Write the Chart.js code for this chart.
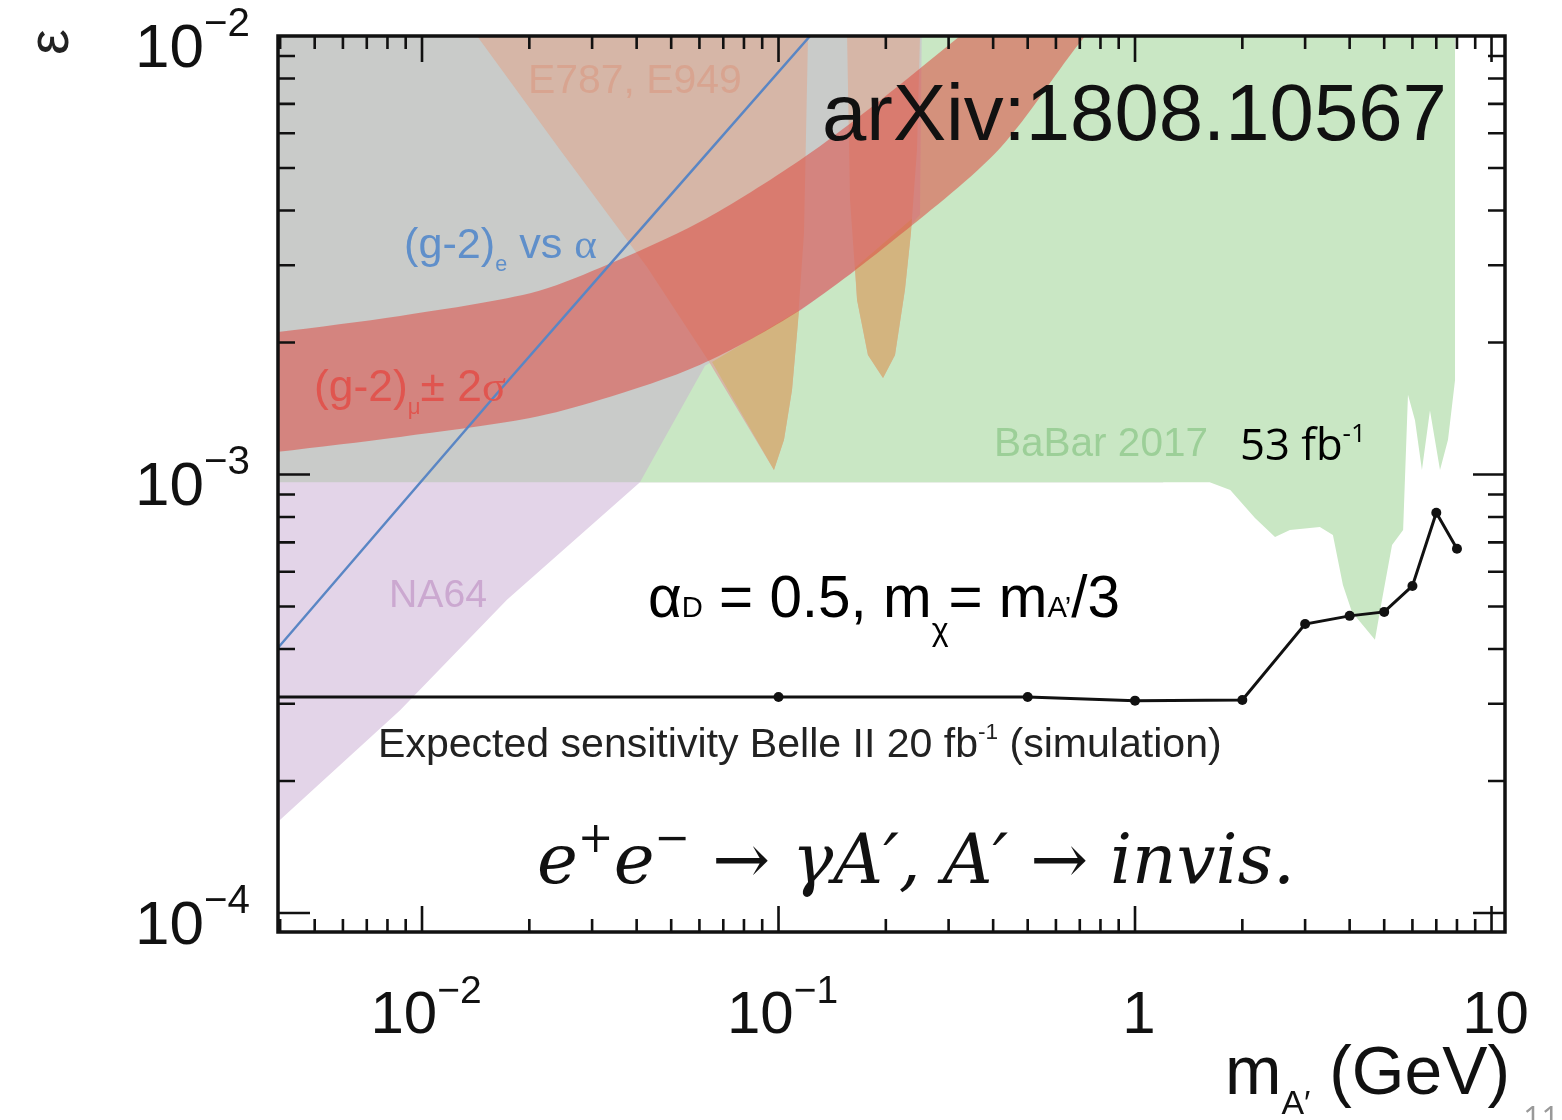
<!DOCTYPE html>
<html>
<head>
<meta charset="utf-8">
<script src="https://cdn.jsdelivr.net/npm/chart.js@4.4.1/dist/chart.umd.min.js"></script>
<style>
  html, body { margin: 0; background: #fff; }
  #wrap { width: 1562px; height: 1120px; }
</style>
</head>
<body>
<div id="wrap"><canvas id="c" width="1562" height="1120"></canvas></div>
<script>
// x = m_A' (GeV), y = epsilon, both log
var xRange = [0.003945, 10.91];
var yRange = [9.05e-5, 1e-2];

var xTickLabels = [[0.01, '10', '\u22122'], [0.1, '10', '\u22121'], [1, '1', ''], [10, '10', '']];
var yTickLabels = [[1e-2, '10', '\u22122'], [1e-3, '10', '\u22123'], [1e-4, '10', '\u22124']];
var tickDecades = [-4, -3, -2, -1, 0, 1];

// Belle II expected sensitivity, 20 fb^-1
var belleMass = [0.001, 0.1, 0.5, 1, 2, 3, 4, 5, 6, 7, 8];
var belleEps  = [3.11e-4, 3.11e-4, 3.11e-4, 3.05e-4, 3.06e-4, 4.56e-4, 4.76e-4, 4.86e-4, 5.57e-4, 8.18e-4, 6.77e-4];

// (g-2)_e vs alpha
var g2eMass = [0.00394, 0.01655, 0.1226];
var g2eEps  = [4.02e-4, 1.558e-3, 1e-2];

// (g-2)_mu +- 2 sigma band
var g2muUpMass  = [0.0039, 0.00868, 0.0201, 0.0316, 0.0603, 0.1148, 0.193, 0.323, 0.418];
var g2muUpEps   = [2.11e-3, 2.30e-3, 2.59e-3, 2.96e-3, 3.77e-3, 5.21e-3, 7.14e-3, 1e-2, 1.18e-2];
var g2muLowMass = [0.0039, 0.00868, 0.0201, 0.0316, 0.0603, 0.1148, 0.2194, 0.418, 0.725, 0.908];
var g2muLowEps  = [1.125e-3, 1.218e-3, 1.345e-3, 1.48e-3, 1.78e-3, 2.37e-3, 3.52e-3, 5.55e-3, 1e-2, 1.18e-2];

// E787, E949
var e787Mass = [0.01427, 0.02438, 0.04277, 0.0634, 0.0971, 0.1036, 0.1091, 0.1127, 0.1179, 0.1210,
                0.1557, 0.1587, 0.1661, 0.1782, 0.1964, 0.2122, 0.2263, 0.2352, 0.2446, 0.2494];
var e787Eps  = [1e-2, 5.50e-3, 2.974e-3, 1.825e-3, 1.024e-3, 1.20e-3, 1.558e-3, 2.10e-3, 3.555e-3, 1e-2,
                1e-2, 4.23e-3, 2.50e-3, 1.874e-3, 1.66e-3, 1.874e-3, 2.64e-3, 3.555e-3, 5.50e-3, 1e-2];
var dip1Mass = [0.0651, 0.0971, 0.1036, 0.1091, 0.1127, 0.1142];
var dip1Eps  = [1.806e-3, 1.024e-3, 1.20e-3, 1.558e-3, 2.10e-3, 2.37e-3];
var dip2Mass = [0.1639, 0.1661, 0.1782, 0.1964, 0.2122, 0.2263, 0.2352, 0.2367];
var dip2Eps  = [2.96e-3, 2.50e-3, 1.874e-3, 1.66e-3, 1.874e-3, 2.64e-3, 3.555e-3, 3.83e-3];

// BaBar 2017
var babarMass = [0.04087, 0.0622, 0.1148, 0.2194, 0.2494, 0.2527, 7.90, 7.90, 7.55, 7.17, 6.72, 6.38, 6.10, 5.83,
                 5.65, 5.26, 4.93, 4.71, 4.47, 4.06, 3.83, 3.59, 3.30, 2.72, 2.47, 2.17, 1.85, 1.62];
var babarEps  = [9.6e-4, 1.769e-3, 2.36e-3, 3.48e-3, 3.91e-3, 1.2e-2, 1.2e-2, 1.64e-3, 1.20e-3, 1.024e-3, 1.40e-3, 1.024e-3, 1.33e-3, 1.52e-3,
                 7.47e-4, 6.91e-4, 5.18e-4, 4.20e-4, 4.42e-4, 4.86e-4, 5.60e-4, 7.28e-4, 7.59e-4, 7.47e-4, 7.20e-4, 7.96e-4, 9.22e-4, 9.6e-4];

// other earlier limits (grey)
var greyMass = [0.003, 1.2, 1.2, 0.003];
var greyEps  = [9.6e-4, 9.6e-4, 1.2e-2, 1.2e-2];

// NA64
var na64Mass = [0.00329, 0.00868, 0.01731, 0.04087, 0.04087, 0.00329];
var na64Eps  = [1.41e-4, 2.90e-4, 5.18e-4, 9.6e-4, 1.5e-3, 1.5e-3];

function pts(xs, ys) {
  return xs.map(function(v, i) { return {x: v, y: ys[i]}; });
}

function area(data, color, order, tension) {
  return {
    data: data, order: order,
    backgroundColor: color, borderColor: 'rgba(0,0,0,0)', borderWidth: 0,
    pointRadius: 0, fill: 'shape', tension: tension || 0
  };
}

var bandPts = pts(g2muUpMass, g2muUpEps).concat(pts(g2muLowMass, g2muLowEps).reverse());

var FONT = '"Liberation Sans", Arial, sans-serif';

function drawRuns(ctx, runs, x, y, size, o) {
  o = o || {};
  var fam = o.family || FONT;
  function fnt(r, k) {
    return (r.it || o.it ? 'italic ' : '') + (size * k * (r.s || 1)).toFixed(2) + 'px ' + (r.f || fam);
  }
  function width(k) {
    var w = 0;
    runs.forEach(function(r) { ctx.font = fnt(r, k); w += ctx.measureText(r.t).width; });
    return w;
  }
  var k = o.width ? o.width / width(1) : 1;
  var w = width(k);
  var cx = o.align === 'right' ? x - w : (o.align === 'center' ? x - w / 2 : x);
  ctx.textBaseline = 'alphabetic';
  ctx.textAlign = 'left';
  runs.forEach(function(r) {
    ctx.font = fnt(r, k);
    ctx.fillStyle = r.c || o.color || '#000';
    ctx.fillText(r.t, cx, y + (r.dy || 0) * size * k);
    cx += ctx.measureText(r.t).width;
  });
}

function isMajor(v) {
  var l = Math.log10(v);
  return Math.abs(l - Math.round(l)) < 1e-6;
}

var tickValues = [];
tickDecades.forEach(function(d) {
  for (var m = 1; m <= 9; m++) tickValues.push(m * Math.pow(10, d));
});

var framePlugin = {
  id: 'frame',
  afterDatasetsDraw: function(chart) {
    var ctx = chart.ctx, a = chart.chartArea, x = chart.scales.x, y = chart.scales.y;
    ctx.save();
    ctx.strokeStyle = '#111';
    ctx.lineWidth = 2.6;
    ctx.beginPath();
    tickValues.forEach(function(v) {
      var px = x.getPixelForValue(v);
      if (v >= xRange[0] && v <= xRange[1] && px > a.left + 2 && px < a.right - 2) {
        var L = isMajor(v) ? 26 : 13;
        ctx.moveTo(px, a.bottom); ctx.lineTo(px, a.bottom - L);
        ctx.moveTo(px, a.top); ctx.lineTo(px, a.top + L);
      }
      var py = y.getPixelForValue(v);
      if (v >= yRange[0] && v <= yRange[1] && py > a.top + 2 && py < a.bottom - 2) {
        var M = isMajor(v) ? 32 : 17;
        ctx.moveTo(a.left, py); ctx.lineTo(a.left + M, py);
        ctx.moveTo(a.right, py); ctx.lineTo(a.right - M, py);
      }
    });
    ctx.stroke();
    ctx.lineWidth = 3.5;
    ctx.strokeRect(a.left, a.top, a.right - a.left, a.bottom - a.top);
    ctx.restore();
  }
};

var textPlugin = {
  id: 'texts',
  afterDraw: function(chart) {
    var ctx = chart.ctx, x = chart.scales.x, y = chart.scales.y;
    ctx.save();

    xTickLabels.forEach(function(t) {
      drawRuns(ctx, [{t: t[1]}, {t: t[2], s: 0.65, dy: -0.5}], x.getPixelForValue(t[0]) + 4, 1033, 60, {align: 'center', color: '#111'});
    });
    yTickLabels.forEach(function(t) {
      drawRuns(ctx, [{t: t[1]}, {t: t[2], s: 0.65, dy: -0.5}], 250, y.getPixelForValue(t[0]) + 31, 62, {align: 'right', color: '#111'});
    });

    // axis titles
    drawRuns(ctx, [{t: 'm'}, {t: 'A\u2032', s: 0.5, dy: 0.3}, {t: ' (GeV)'}], 1510, 1094, 58, {align: 'right', width: 285, color: '#111'});
    ctx.save();
    ctx.translate(52, 42);
    ctx.rotate(-Math.PI / 2);
    ctx.font = '58px ' + FONT;
    ctx.fillStyle = '#222';
    ctx.textAlign = 'center';
    ctx.textBaseline = 'middle';
    ctx.fillText('\u03b5', 0, 0);
    ctx.restore();

    // region labels
    drawRuns(ctx, [{t: 'E787, E949'}], 528, 93, 42, {width: 214, color: '#d8a490'});
    drawRuns(ctx, [{t: '(g-2)'}, {t: 'e', s: 0.5, dy: 0.3}, {t: ' vs '}, {t: '\u03b1', f: '"Liberation Serif", serif'}],
      404, 258, 40, {width: 193, color: '#5f8fca'});
    drawRuns(ctx, [{t: '(g-2)'}, {t: '\u03bc', s: 0.5, dy: 0.3}, {t: '\u00b1 2'}, {t: '\u03c3', f: '"Liberation Serif", serif'}],
      314, 401, 40, {width: 192, color: '#e0554f'});
    drawRuns(ctx, [{t: 'NA64'}], 389, 607, 38, {width: 98, color: '#cba8d0'});
    drawRuns(ctx, [{t: 'BaBar 2017'}], 994, 456, 40, {width: 214, color: '#9ccf98'});
    drawRuns(ctx, [{t: 'Expected sensitivity Belle II 20 fb'}, {t: '-1', s: 0.55, dy: -0.45}, {t: ' (simulation)'}],
      378, 757, 33, {width: 844, color: '#222'});

    // slide annotations
    drawRuns(ctx, [{t: 'arXiv:1808.10567'}], 822, 140, 79, {width: 625, color: '#111'});
    drawRuns(ctx, [{t: '53 fb'}, {t: '-1', s: 0.6, dy: -0.42}], 1240, 460, 42, {family: '"Open Sans", sans-serif', width: 126, color: '#000'});
    drawRuns(ctx, [{t: '\u03b1'}, {t: 'D', s: 0.5}, {t: ' = 0.5, m'}, {t: '\u03c7', s: 0.55, dy: 0.4}, {t: '= m'}, {t: 'A\u2019', s: 0.5}, {t: '/3'}],
      648, 617, 56, {width: 472, color: '#000'});
    drawRuns(ctx, [{t: 'e', it: true}, {t: '+', s: 0.62, dy: -0.45}, {t: 'e', it: true}, {t: '\u2212', s: 0.62, dy: -0.45},
                   {t: ' \u2192 '}, {t: '\u03b3A\u2032, A\u2032', it: true}, {t: ' \u2192 '}, {t: 'invis.', it: true}],
      537, 883, 64, {family: '"DejaVu Serif", serif', width: 758, color: '#111'});
    drawRuns(ctx, [{t: '11'}], 1523, 1130, 32, {color: '#999', family: '"Open Sans", sans-serif'});
    ctx.restore();
  }
};

new Chart(document.getElementById('c'), {
  type: 'line',
  data: {
    datasets: [
      {
        label: 'Belle II', data: pts(belleMass, belleEps), order: 0,
        borderColor: '#111', borderWidth: 3, backgroundColor: '#111',
        pointRadius: belleMass.map(function(m, i) { return i === 0 ? 0 : 5; }),
        pointBackgroundColor: '#111', pointBorderWidth: 0, fill: false, tension: 0, clip: 0
      },
      {
        label: '(g-2)e', data: pts(g2eMass, g2eEps), order: 1,
        borderColor: '#5a86c4', borderWidth: 2.5, pointRadius: 0, fill: false, tension: 0.2, clip: 0
      },
      area(bandPts, 'rgba(221,75,65,0.55)', 2, 0.3),
      area(pts(dip1Mass, dip1Eps), '#d3b47f', 3),
      area(pts(dip2Mass, dip2Eps), '#d3b47f', 3),
      area(pts(e787Mass, e787Eps), '#d6b6a7', 4),
      area(pts(babarMass, babarEps), '#c9e7c4', 5),
      area(pts(greyMass, greyEps), '#c9cbc9', 6),
      area(pts(na64Mass, na64Eps), '#e3d4e8', 7)
    ]
  },
  options: {
    responsive: false,
    devicePixelRatio: 1,
    animation: false,
    layout: { padding: { left: 278, right: 57, top: 36, bottom: 188 } },
    plugins: { legend: { display: false }, tooltip: { enabled: false } },
    scales: {
      x: { type: 'logarithmic', min: xRange[0], max: xRange[1], display: false },
      y: { type: 'logarithmic', min: yRange[0], max: yRange[1], display: false }
    }
  },
  plugins: [framePlugin, textPlugin]
});
</script>
</body>
</html>
